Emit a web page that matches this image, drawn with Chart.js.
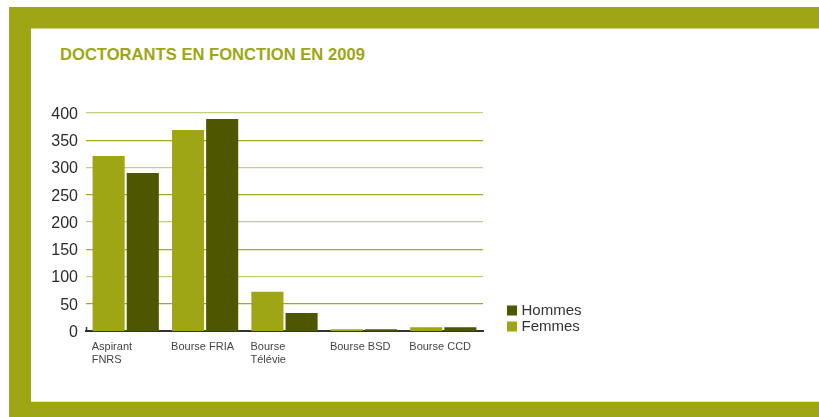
<!DOCTYPE html>
<html>
<head>
<meta charset="utf-8">
<script src="https://cdn.jsdelivr.net/npm/chart.js@4"></script>
<style>
  html, body { margin: 0; padding: 0; background: #ffffff; width: 819px; height: 417px; overflow: hidden; }
  #frame { position: absolute; left: 9px; top: 7px; width: 810px; height: 410px; background: #9ea615; }
  #inner { position: absolute; left: 31px; top: 28px; width: 788px; height: 374px; background: #ffffff;
           border-top: 1px solid #cfd493; border-bottom: 1px solid #e2e4cf; box-sizing: border-box; }
  #title { position: absolute; left: 60px; top: 45px; line-height: 20px; font-family: "Liberation Sans", Arial, sans-serif;
           font-weight: bold; font-size: 16.6px; color: #9ea615; white-space: nowrap; }
  #c { position: absolute; left: 0; top: 0; }
</style>
</head>
<body>
<div id="frame"></div>
<div id="inner"></div>
<div id="title">DOCTORANTS EN FONCTION EN 2009</div>
<canvas id="c" width="819" height="417"></canvas>
<script>
const categories = [['Aspirant', 'FNRS'], 'Bourse FRIA', ['Bourse', 'Télévie'], 'Bourse BSD', 'Bourse CCD'];
const seriesNames = ['Femmes', 'Hommes'];
const femmes = [321, 369, 72, 3, 7];
const hommes = [290, 389, 33, 3, 7];
const yMin = 0, yMax = 400, yStep = 50;

const LIGHT = '#9ea615';
const DARK = '#4f5600';

const legendPlugin = {
  id: 'sideLegend',
  afterDraw(chart) {
    const ctx = chart.ctx;
    const area = chart.chartArea;
    const x = area.right + 24;
    const items = chart.data.datasets.map((d) => ({ text: d.label, color: d.backgroundColor })).reverse();
    ctx.save();
    ctx.font = '15px "Liberation Sans", Arial, sans-serif';
    ctx.textBaseline = 'middle';
    ctx.textAlign = 'left';
    items.forEach((it, i) => {
      const top = area.bottom - 25.5 + i * 16;
      ctx.fillStyle = it.color;
      ctx.fillRect(x, top, 10, 10);
      ctx.fillStyle = '#333333';
      ctx.fillText(it.text, x + 14.5, top + 5.5);
    });
    // small hook at the left end of the baseline
    ctx.strokeStyle = '#333333';
    ctx.lineWidth = 1.5;
    ctx.beginPath();
    ctx.moveTo(area.left + 0.5, area.bottom - 4);
    ctx.lineTo(area.left + 0.5, area.bottom);
    ctx.stroke();
    ctx.restore();
  }
};

new Chart(document.getElementById('c'), {
  type: 'bar',
  data: {
    labels: categories,
    datasets: [
      { label: seriesNames[0], data: femmes, backgroundColor: LIGHT },
      { label: seriesNames[1], data: hommes, backgroundColor: DARK }
    ]
  },
  options: {
    responsive: false,
    animation: false,
    devicePixelRatio: 1,
    layout: { padding: { left: 50, top: 113, right: 336, bottom: 0 } },
    datasets: { bar: { categoryPercentage: 0.86, barPercentage: 0.94 } },
    plugins: { legend: { display: false }, tooltip: { enabled: false } },
    scales: {
      x: {
        grid: { display: false, drawTicks: false },
        border: { display: true, color: '#333333', width: 2 },
        ticks: {
          align: 'start',
          labelOffset: -34,
          padding: 10,
          color: '#444444',
          font: { family: '"Liberation Sans", Arial, sans-serif', size: 11, lineHeight: 1.15 },
          maxRotation: 0,
          autoSkip: false
        },
        afterFit(scale) { scale.height = 86; }
      },
      y: {
        min: yMin, max: yMax,
        grid: {
          drawTicks: false,
          lineWidth: (c) => c.tick && c.tick.value === 0 ? 0 : 1.2,
          color: (c) => (c.tick && c.tick.value % 100 === 0) ? '#c6cd7e' : '#a3ab1c'
        },
        border: { display: false },
        ticks: {
          stepSize: yStep,
          padding: 8,
          labelOffset: 1.5,
          color: '#2b2b2b',
          font: { family: '"Liberation Sans", Arial, sans-serif', size: 16 }
        },
        afterFit(scale) { scale.width = 36; }
      }
    }
  },
  plugins: [legendPlugin]
});
</script>
</body>
</html>
